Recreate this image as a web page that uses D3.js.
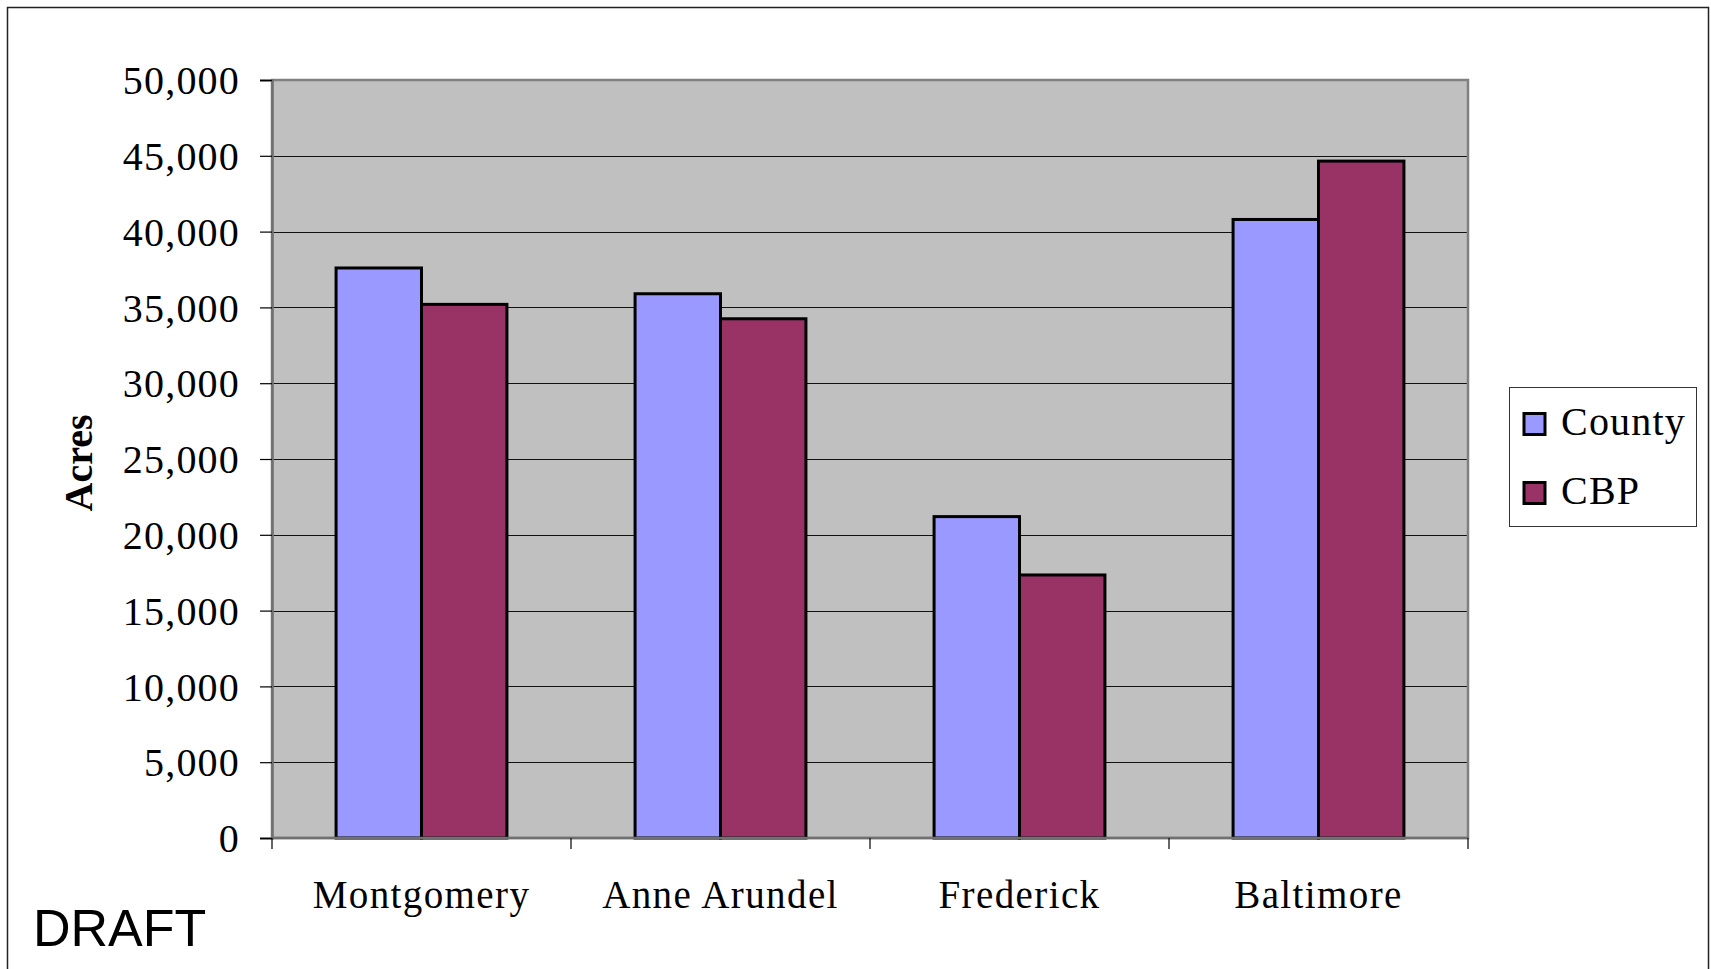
<!DOCTYPE html>
<html>
<head>
<meta charset="utf-8">
<script src="https://cdn.jsdelivr.net/npm/d3@7"></script>
<style>
  html, body { margin: 0; padding: 0; background: #fff; }
  svg { display: block; }
</style>
</head>
<body>
<svg id="chart" width="1711" height="969"></svg>
<script>
// Acreage by county, two estimates per county
const counties = ["Montgomery", "Anne Arundel", "Frederick", "Baltimore"];
const seriesNames = ["County", "CBP"];
const countyAcres = [37600, 35900, 21200, 40800];
const cbpAcres = [35200, 34250, 17350, 44650];
const seriesColors = ["#9999FF", "#993366"];
const yTicks = [0, 5000, 10000, 15000, 20000, 25000, 30000, 35000, 40000, 45000, 50000];

const seriesValues = [countyAcres, cbpAcres];
const rows = counties.map((c, i) => ({
  county: c,
  values: seriesNames.map((s, j) => ({ series: s, value: seriesValues[j][i], color: seriesColors[j] }))
}));

const svg = d3.select("#chart");
const plot = { left: 272, right: 1468, top: 80, bottom: 838 };
const serif = "'Liberation Serif', 'Times New Roman', serif";

// Outer chart frame
svg.append("rect")
  .attr("x", 7.5).attr("y", 7.5)
  .attr("width", 1701).attr("height", 990)
  .attr("fill", "#fff").attr("stroke", "#222").attr("stroke-width", 1.5);

const x0 = d3.scaleBand().domain(counties).range([plot.left, plot.right]).padding(0);
const x1 = d3.scaleBand().domain(seriesNames).range([0, x0.bandwidth()])
  .paddingInner(0).paddingOuter(0.75);
const y = d3.scaleLinear().domain([0, 50000]).range([plot.bottom, plot.top]);

// Plot background
svg.append("rect")
  .attr("x", plot.left).attr("y", plot.top)
  .attr("width", plot.right - plot.left).attr("height", plot.bottom - plot.top)
  .attr("fill", "#C0C0C0");

// Horizontal gridlines
svg.append("g")
  .selectAll("line")
  .data(yTicks.filter(t => t > 0 && t < 50000))
  .join("line")
  .attr("x1", plot.left).attr("x2", plot.right)
  .attr("y1", d => Math.round(y(d)) + 0.5).attr("y2", d => Math.round(y(d)) + 0.5)
  .attr("stroke", "#111").attr("stroke-width", 1);

// Plot border
svg.append("rect")
  .attr("x", plot.left).attr("y", plot.top)
  .attr("width", plot.right - plot.left).attr("height", plot.bottom - plot.top)
  .attr("fill", "none").attr("stroke", "#808080").attr("stroke-width", 2.5);

// Bars
const groups = svg.append("g")
  .selectAll("g")
  .data(rows)
  .join("g")
  .attr("transform", d => `translate(${x0(d.county)},0)`);

groups.selectAll("rect")
  .data(d => d.values)
  .join("rect")
  .attr("x", d => x1(d.series))
  .attr("y", d => y(d.value))
  .attr("width", x1.bandwidth())
  .attr("height", d => y(0) - y(d.value))
  .attr("fill", d => d.color)
  .attr("stroke", "#000")
  .attr("stroke-width", 3);

// Y axis
const yAxis = d3.axisLeft(y)
  .tickValues(yTicks)
  .tickFormat(d3.format(","))
  .tickSize(12)
  .tickPadding(20);

const yg = svg.append("g")
  .attr("transform", `translate(${plot.left},0)`)
  .call(yAxis);
yg.select(".domain").attr("stroke", "#707070").attr("stroke-width", 2.5);
yg.selectAll(".tick line").attr("stroke", "#000").attr("stroke-width", 1.2);
yg.selectAll(".tick text")
  .attr("font-family", serif)
  .attr("font-size", 40)
  .attr("letter-spacing", "1.2px")
  .attr("fill", "#000")
  .attr("dy", "0.34em");

// X axis: category ticks at band boundaries, labels centred
const xg = svg.append("g").attr("transform", `translate(0,${plot.bottom})`);
xg.append("line")
  .attr("x1", plot.left).attr("x2", plot.right)
  .attr("y1", 0).attr("y2", 0)
  .attr("stroke", "#707070").attr("stroke-width", 2.5);
const boundaries = counties.map(c => x0(c)).concat([x0.range()[1]]);
xg.selectAll("line.tick")
  .data(boundaries)
  .join("line")
  .attr("class", "tick")
  .attr("x1", d => d).attr("x2", d => d)
  .attr("y1", 0).attr("y2", 11)
  .attr("stroke", "#000").attr("stroke-width", 1.2);
xg.selectAll("text")
  .data(counties)
  .join("text")
  .attr("x", d => x0(d) + x0.bandwidth() / 2)
  .attr("y", 70)
  .attr("text-anchor", "middle")
  .attr("font-family", serif)
  .attr("font-size", 39)
  .attr("letter-spacing", "1.4px")
  .attr("fill", "#000")
  .text(d => d);

// Y axis title
svg.append("text")
  .attr("transform", "translate(92,463) rotate(-90)")
  .attr("text-anchor", "middle")
  .attr("font-family", serif)
  .attr("font-weight", "bold")
  .attr("font-size", 40)
  .attr("fill", "#000")
  .text("Acres");

// Legend
const legend = svg.append("g");
legend.append("rect")
  .attr("x", 1509.5).attr("y", 387.5)
  .attr("width", 187).attr("height", 139)
  .attr("fill", "#fff").attr("stroke", "#333").attr("stroke-width", 1);
const items = legend.selectAll("g.item")
  .data(seriesNames.map((s, i) => ({ name: s, color: seriesColors[i] })))
  .join("g")
  .attr("class", "item")
  .attr("transform", (d, i) => `translate(0,${i * 69})`);
items.append("rect")
  .attr("x", 1524).attr("y", 413.5)
  .attr("width", 21).attr("height", 21)
  .attr("fill", d => d.color)
  .attr("stroke", "#000").attr("stroke-width", 3);
items.append("text")
  .attr("x", 1561).attr("y", 435)
  .attr("font-family", serif)
  .attr("font-size", 40)
  .attr("letter-spacing", "1.2px")
  .attr("fill", "#000")
  .text(d => d.name);

// Draft stamp
svg.append("text")
  .attr("x", 33).attr("y", 946)
  .attr("font-family", "'Liberation Sans', Arial, sans-serif")
  .attr("font-size", 52)
  .attr("fill", "#000")
  .text("DRAFT");
</script>
</body>
</html>
